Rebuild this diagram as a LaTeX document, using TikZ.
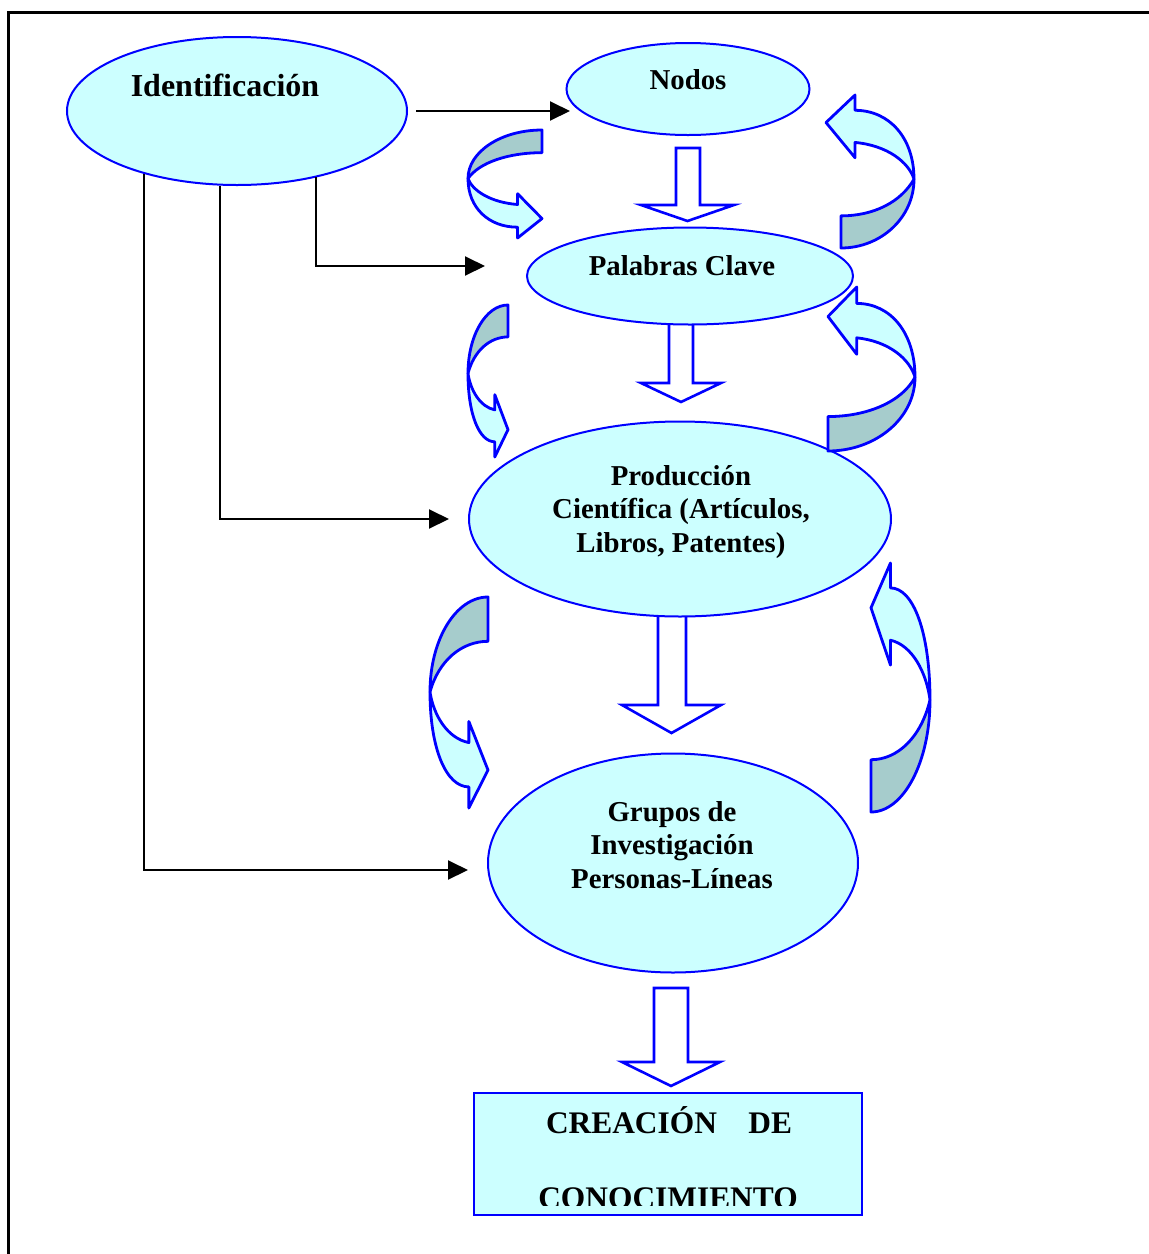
\documentclass[tikz,border=0pt]{standalone}
\usepackage{fontspec}
\setmainfont{Liberation Serif}
\usetikzlibrary{shapes.geometric,arrows.meta}

\definecolor{paleaqua}{HTML}{CCFFFF}
\definecolor{shadeaqua}{HTML}{A6CCCC}
\definecolor{pureblue}{HTML}{0000FF}

\tikzset{
  oval/.style={ellipse, draw=pureblue, line width=1pt, fill=paleaqua, inner sep=0pt},
  conn/.style={line width=1pt, -{Triangle[length=10pt,width=9.5pt]}},
  hollow/.style={draw=pureblue, line width=1.3pt, fill=white, line join=miter},
  bandfront/.style={draw=pureblue, line width=1.4pt, fill=paleaqua, line join=round},
  bandback/.style={draw=pureblue, line width=1.4pt, fill=shadeaqua, line join=round},
  lbl/.style={font=\fontsize{14.4}{16.75}\selectfont\bfseries, align=center, inner sep=0pt},
  boxlbl/.style={font=\fontsize{15.7}{19}\selectfont\bfseries, inner sep=0pt, anchor=base},
  bendL/.style n args={4}{shift={(#1,#2)}, xscale=#3, yscale=#4},
  bendR/.style n args={4}{shift={({#1+#3},{#2+#4})}, xscale=-#3, yscale=-#4},
}

% curved band arrow in a unit box; #1 = x of the shaded end
\newcommand{\bentband}[1]{%
  \filldraw[bandfront] (0,0.45) .. controls (0.06,0.56) and (0.3,0.67) .. (0.67,0.69)
    -- (0.67,0.59) -- (1,0.82) -- (0.67,1) -- (0.67,0.90)
    .. controls (0.28,0.9) and (0,0.72) .. (0,0.45) -- cycle;
  \filldraw[bandback] (#1,0) .. controls ({0.45*#1},0) and (0,0.2) .. (0,0.45)
    .. controls (0.15,0.3) and ({0.55*#1},0.21) .. (#1,0.21) -- cycle;
}

% hollow downward block arrow: shaft left/right, top, head line, wing left/right, tip
\newcommand{\hollowdown}[7]{%
  \filldraw[hollow] (#1,#3) -- (#1,#4) -- (#5,#4) -- ({(#5+#6)/2},#7)
    -- (#6,#4) -- (#2,#4) -- (#2,#3) -- cycle;
}

\begin{document}
\begin{tikzpicture}[x=0.5pt, y=-0.5pt]
\useasboundingbox (0,0) rectangle (1149,1254);

% page frame
\draw[line width=1.5pt] (8,1254) -- (8,12) -- (1149,12);

% block arrows along the main chain
\hollowdown{676}{700}{148}{205}{641}{734}{221}
\hollowdown{669}{693}{318}{383}{641}{721}{402}
\hollowdown{658}{686}{610}{705}{622}{721}{733}
\hollowdown{654}{688}{988}{1062}{622}{720}{1086}

% stages
\node[oval, minimum width=170pt, minimum height=74pt] (ident) at (237,111) {};
\node[oval, minimum width=121.5pt, minimum height=46pt] (nodos) at (688,89) {};
\node[oval, minimum width=163pt, minimum height=48.5pt] (pal) at (690,276) {};
\node[oval, minimum width=211pt, minimum height=97.5pt] (prod) at (680,519) {};
\node[oval, minimum width=185pt, minimum height=109.5pt] (grup) at (673,863) {};
\node[draw=pureblue, line width=1pt, fill=paleaqua, minimum width=194pt, minimum height=61pt, inner sep=0pt] (crea) at (668,1154) {};

% connectors from the identification stage
\coordinate (e1) at (570,111);
\coordinate (e2) at (485,266);
\coordinate (e3) at (449,519);
\coordinate (e4) at (468,870);
\draw[conn] ([xshift=4pt]ident.east) -- (e1);
\draw[conn] (ident.-40) |- (e2);
\draw[conn] (ident.-103.7) |- (e3);
\draw[conn] (ident.-146.8) |- (e4);

% feedback loops, left side
\begin{scope}[bendL={468}{130}{74}{108}] \bentband{1} \end{scope}
\begin{scope}[bendL={468}{305}{40}{152}] \bentband{1} \end{scope}
\begin{scope}[bendL={430}{597}{58}{211}] \bentband{1} \end{scope}
% feedback loops, right side
\begin{scope}[bendR={826}{95}{88}{153}] \bentband{0.83} \end{scope}
\begin{scope}[bendR={828}{287}{87}{164}] \bentband{1} \end{scope}
\begin{scope}[bendR={871}{563}{59}{249}] \bentband{1} \end{scope}

% labels
\node[lbl, font=\fontsize{16}{19}\selectfont\bfseries] (identT) at (225,85) {Identificación};
\node[lbl] (nodosT) at (688,80) {Nodos};
\node[lbl] (palT) at (682,266) {Palabras Clave};
\node[lbl] (prodT) at (681,512) {Producción\\Científica (Artículos,\\Libros, Patentes)};
\node[lbl] (grupT) at (672,845) {Grupos de\\Investigación\\Personas-Líneas};

\begin{scope}
  \clip (474,1093) rectangle (862,1205);
  \node[boxlbl] (creaA) at (669,1133) {CREACIÓN\ \ \ \ DE};
  \node[boxlbl] (creaB) at (668,1208) {CONOCIMIENTO};
\end{scope}
\end{tikzpicture}
\end{document}
